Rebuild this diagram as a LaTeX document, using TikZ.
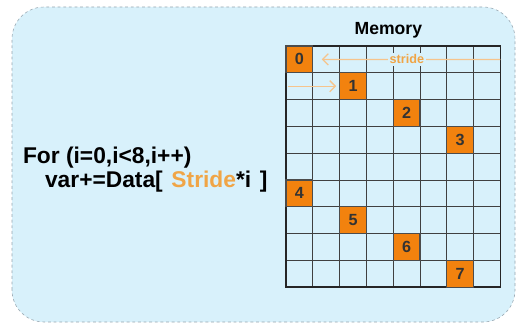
\documentclass[tikz,border=0pt]{standalone}
\usepackage{fontspec}
\setmainfont{Liberation Sans}
\usetikzlibrary{arrows.meta, calc, positioning}
\definecolor{panelblue}{RGB}{216,241,251}
\definecolor{panelline}{RGB}{150,165,175}
\definecolor{cellorange}{RGB}{242,130,14}
\definecolor{strideorange}{RGB}{240,165,70}
\definecolor{arroworange}{RGB}{246,196,140}

\begin{document}
\begin{tikzpicture}[every node/.style={font=\bfseries}]
  \useasboundingbox (0,0) rectangle (13,8.2);
  % panel
  \draw[panelline, fill=panelblue, dashed, dash pattern=on 2pt off 2pt, rounded corners=0.8cm] (0.3,0.15) rectangle (12.875,8.025);
  % memory grid, 8 x 9 cells
  \begin{scope}[shift={(7.15,1.02)}]
    \draw[black!75, line width=0.7pt] (0,0) grid[step=0.67] (5.36,6.03);
    \draw[black!85, line width=1.2pt] (0,0) rectangle (5.36,6.03);
    \foreach \k/\c/\r in {0/0/0, 1/2/1, 2/4/2, 3/6/3, 4/0/5, 5/2/6, 6/4/7, 7/6/8}
      \node[draw=black!70, line width=0.8pt, fill=cellorange, minimum size=0.67cm, inner sep=0pt, font=\bfseries\fontsize{11.5}{13}\selectfont, text=black!80] (c\k) at ({0.67*\c+0.335},{6.03-0.67*\r-0.335}) {\k};
    \coordinate (gridR) at (5.36,5.695);
    \coordinate (gridL) at (0.05,5.025);
  \end{scope}
  \node[font=\bfseries\fontsize{12.5}{14}\selectfont] (mem) at (9.71,7.45) {Memory};
  % stride arrows
  \draw[-{Straight Barb[length=4pt]}, arroworange, line width=0.9pt, shorten >=6pt] (gridR) -- (c0.east)
    node[pos=0.5, fill=panelblue, inner sep=1.5pt, text=strideorange, font=\bfseries\fontsize{9}{10}\selectfont] (lbl) {stride};
  \draw[-{Straight Barb[length=4pt]}, arroworange, line width=0.9pt, shorten >=2pt] (gridL) -- (c1.west);
  % loop code
  \node[anchor=west, font=\bfseries\fontsize{16.2}{19}\selectfont, inner sep=0pt] (loop) at (0.57,4.25) {For (i=0,i<8,i++)};
  \node[anchor=west, font=\bfseries\fontsize{16.2}{19}\selectfont, inner sep=0pt] (body) at (1.12,3.67) {var+=Data[\hspace{0.38em}\textcolor{strideorange}{Stride}*i\hspace{0.38em}]};
\end{tikzpicture}
\end{document}
